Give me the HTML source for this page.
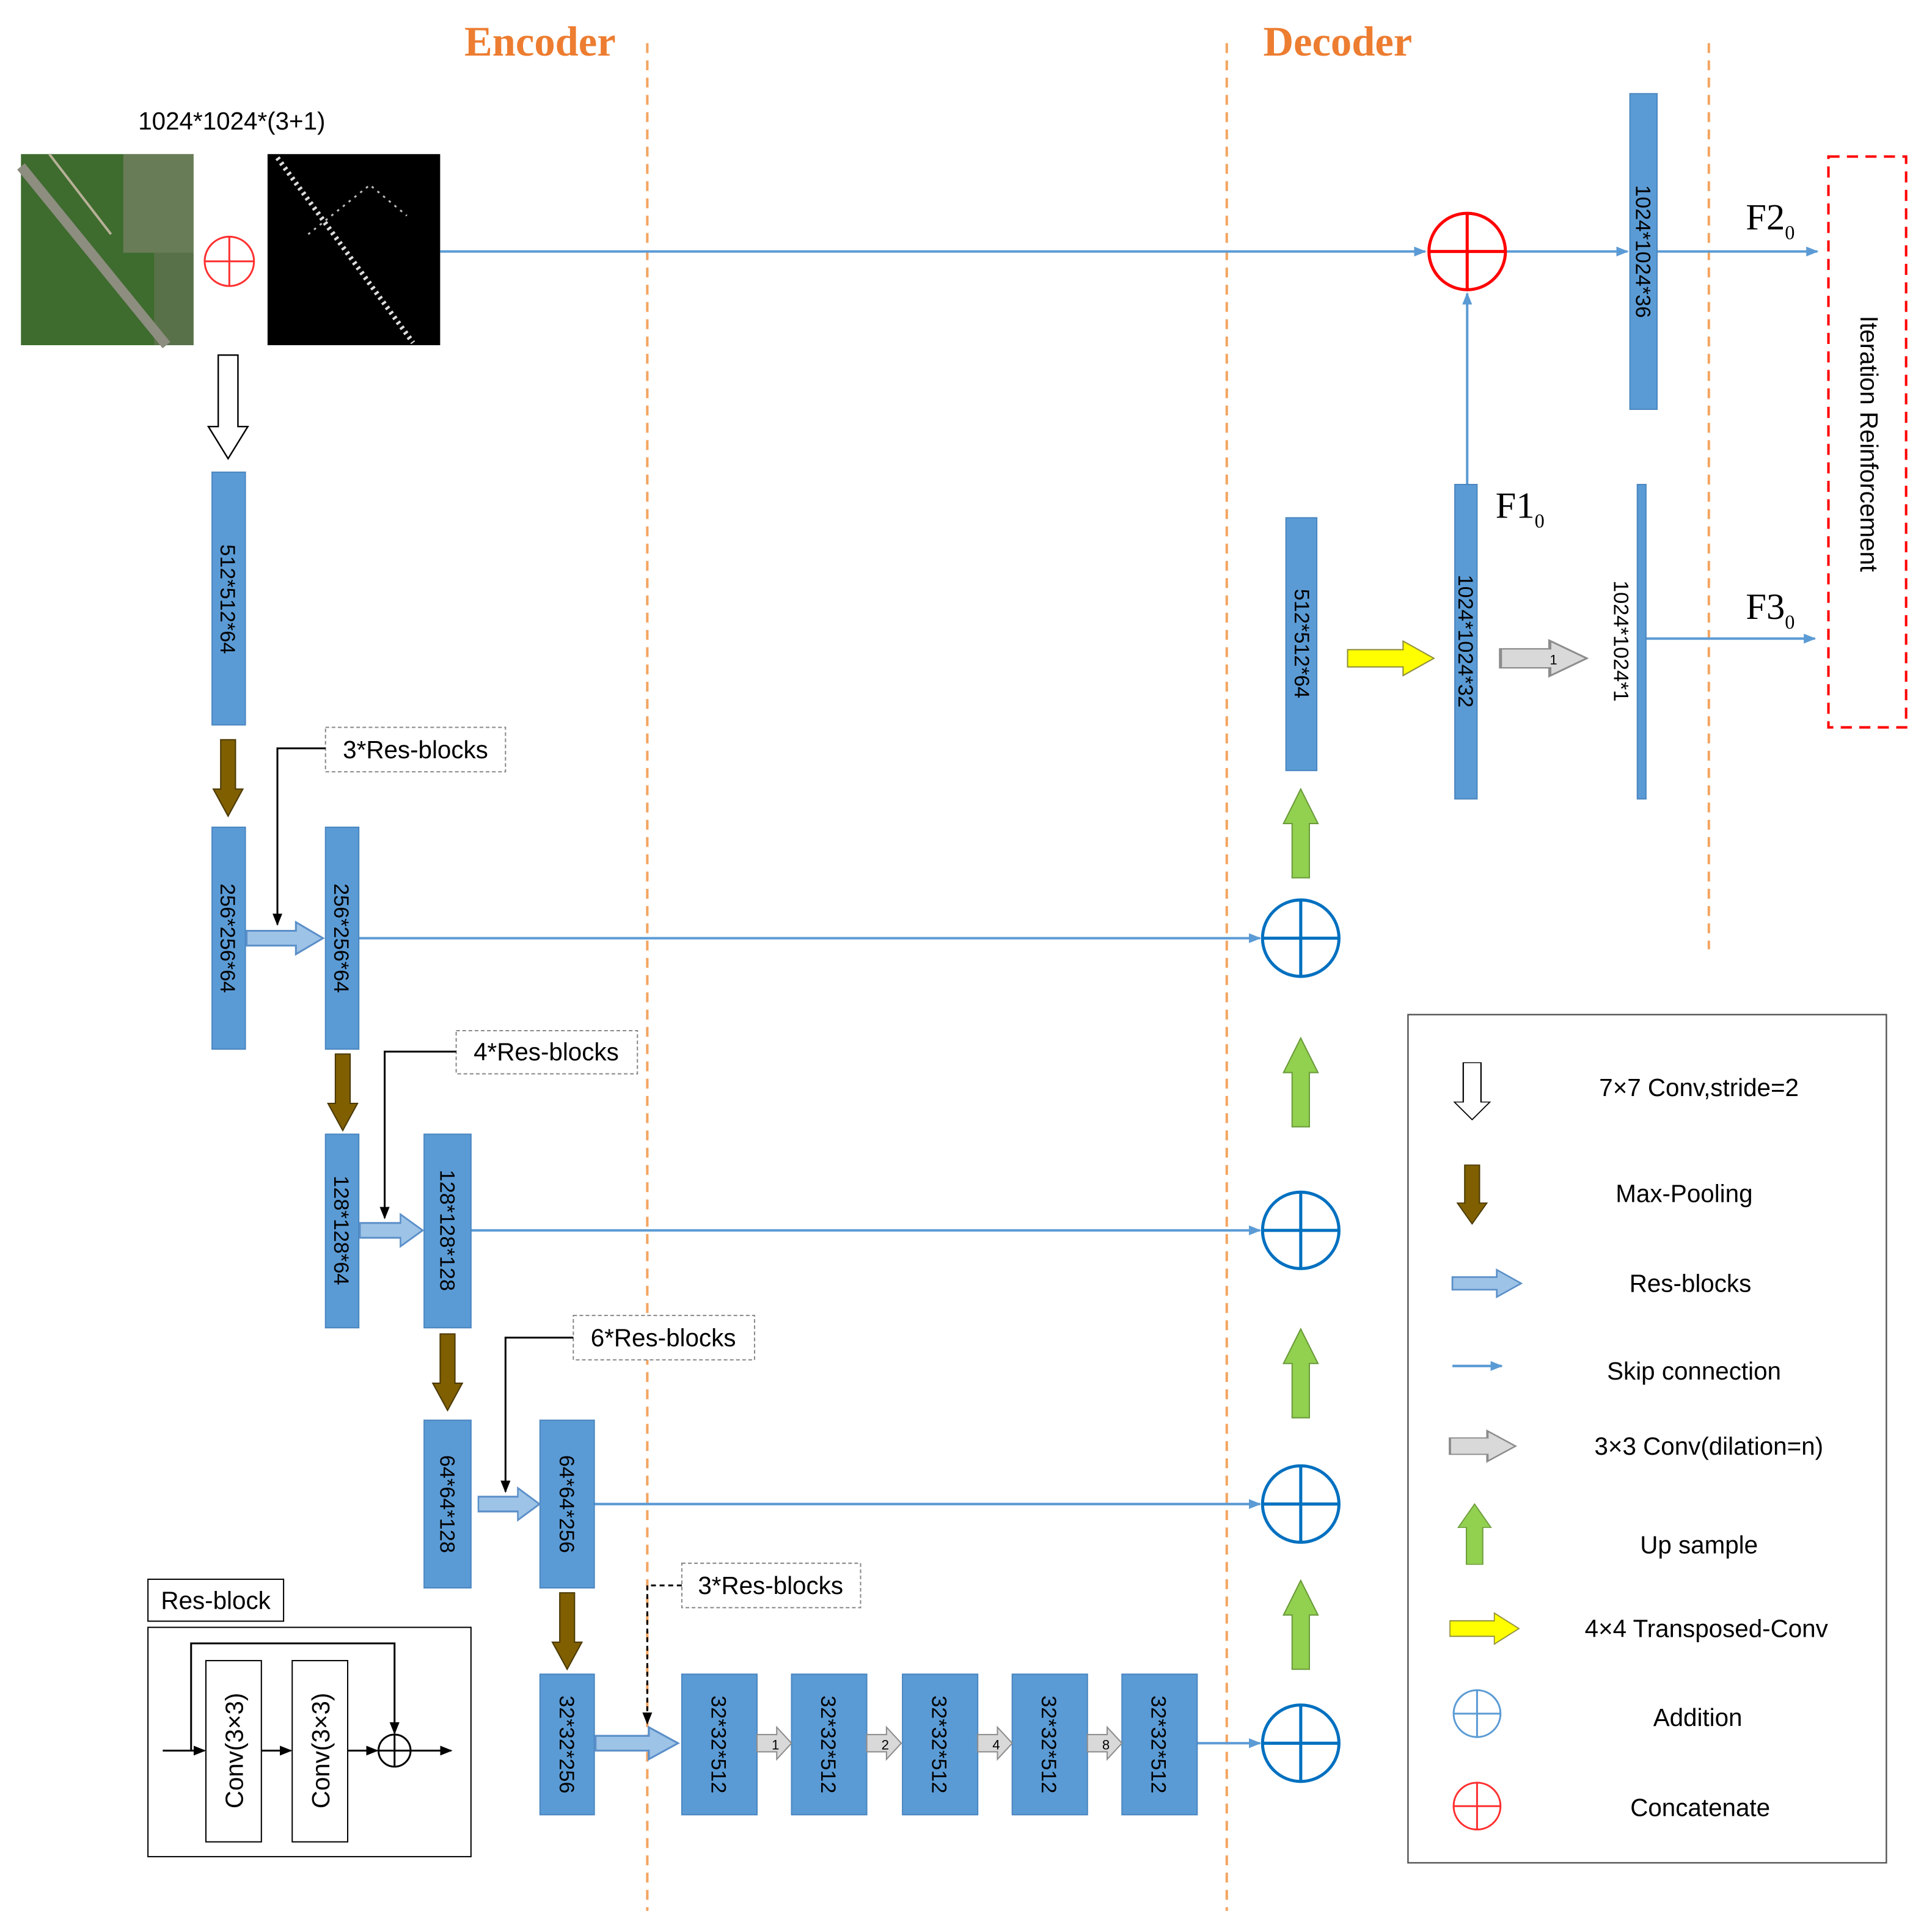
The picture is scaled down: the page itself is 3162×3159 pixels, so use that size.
<!DOCTYPE html>
<html><head><meta charset="utf-8"><style>html,body{margin:0;padding:0;background:#fff}svg{display:block}</style></head><body>
<svg xmlns="http://www.w3.org/2000/svg" width="3162" height="3159" viewBox="0 0 1567 1565.5" preserveAspectRatio="none" font-family="Liberation Sans, sans-serif">
<defs>
<marker id="ab" markerWidth="10" markerHeight="10" refX="9" refY="5" orient="auto" markerUnits="userSpaceOnUse"><path d="M0,1 L10,5 L0,9 Z" fill="#5b9bd5"/></marker>
<marker id="ak" markerWidth="10" markerHeight="10" refX="9" refY="5" orient="auto" markerUnits="userSpaceOnUse"><path d="M0,1 L10,5 L0,9 Z" fill="#000"/></marker>
<path id="res" d="M0,-6 H40 V-13 L62,0 L40,13 V6 H0 Z" fill="#9dc3e6" stroke="#5b8fc9" stroke-width="1.5"/>
<path id="brown" d="M-6,0 L6,0 L6,40 L12,40 L0,62 L-12,40 L-6,40 Z" fill="#7f5f00" stroke="#4a3800" stroke-width="1"/>
<path id="green" d="M-7,72 L7,72 L7,28 L14,28 L0,0 L-14,28 L-7,28 Z" fill="#92d050" stroke="#6a9a3a" stroke-width="1"/>
<path id="gray" d="M0,-7 H16 V-13 L28,0 L16,13 V7 H0Z" fill="#d9d9d9" stroke="#8c8c8c" stroke-width="1"/>
<path id="yellow" d="M0,-7 H45 V-14 L70,0 L45,14 V7 H0Z" fill="#ffff00" stroke="#8c8c3c" stroke-width="1"/>
<path id="hollow" d="M-8,0 H8 V58 H16 L0,84 L-16,58 H-8Z" fill="#fff" stroke="#000" stroke-width="1.2"/>
<g id="bc"><circle r="31" fill="#fff" stroke="#0070c0" stroke-width="2.5"/><path d="M-31,0 H31 M0,-31 V31" stroke="#0070c0" stroke-width="2.5"/></g>
</defs>

<g stroke="#f4a460" stroke-width="2" stroke-dasharray="8,6">
<line x1="525" y1="35" x2="525" y2="1550"/><line x1="995" y1="35" x2="995" y2="1550"/><line x1="1386" y1="35" x2="1386" y2="770"/>
</g>
<text x="438" y="45" font-family="Liberation Serif, serif" font-weight="bold" font-size="34" fill="#ed7d31" text-anchor="middle">Encoder</text>
<text x="1085" y="45" font-family="Liberation Serif, serif" font-weight="bold" font-size="34" fill="#ed7d31" text-anchor="middle">Decoder</text>

<text x="188" y="105" font-size="20" text-anchor="middle">1024*1024*(3+1)</text>
<rect x="17" y="125" width="140" height="155" fill="#3e6b2e"/>
<rect x="100" y="125" width="57" height="80" fill="#8a8a7a" opacity="0.55"/>
<rect x="125" y="205" width="32" height="75" fill="#7a7a6a" opacity="0.45"/>
<path d="M17,135 L135,280" stroke="#8d8d80" stroke-width="8"/>
<path d="M40,125 L90,190" stroke="#b8b098" stroke-width="2"/>
<rect x="217" y="125" width="140" height="155" fill="#000"/>
<path d="M225,128 L335,278" stroke="#ddd" stroke-width="4" stroke-dasharray="2,3"/>
<path d="M250,190 L300,150 L330,175" stroke="#bbb" stroke-width="1.5" stroke-dasharray="2,4" fill="none"/>
<g transform="translate(186,212)"><circle r="20" fill="#fff" stroke="#ff3030" stroke-width="1.5"/><path d="M-20,0 H20 M0,-20 V20" stroke="#ff3030" stroke-width="1.5"/></g>

<g stroke="#5b9bd5" stroke-width="2" fill="none">
<line x1="357" y1="204" x2="1156" y2="204" marker-end="url(#ab)"/>
<line x1="1222" y1="204" x2="1320" y2="204" marker-end="url(#ab)"/>
<line x1="1344" y1="204" x2="1474" y2="204" marker-end="url(#ab)"/>
<line x1="1190" y1="393" x2="1190" y2="238" marker-end="url(#ab)"/>
<line x1="1335" y1="518" x2="1472" y2="518" marker-end="url(#ab)"/>
<line x1="291" y1="761" x2="1022" y2="761" marker-end="url(#ab)"/>
<line x1="382" y1="998" x2="1022" y2="998" marker-end="url(#ab)"/>
<line x1="482" y1="1220" x2="1022" y2="1220" marker-end="url(#ab)"/>
<line x1="971" y1="1414" x2="1022" y2="1414" marker-end="url(#ab)"/>
</g>
<g transform="translate(1190,204)"><circle r="31" fill="#fff" stroke="#ff0000" stroke-width="2.5"/><path d="M-31,0 H31 M0,-31 V31" stroke="#ff0000" stroke-width="2.5"/></g>

<g fill="#5b9bd5" stroke="#4a86c0" stroke-width="1">
<rect x="1322" y="76" width="22" height="256"/>
<rect x="172" y="383" width="27" height="205"/>
<rect x="172" y="671" width="27" height="180"/>
<rect x="264" y="671" width="27" height="180"/>
<rect x="264" y="920" width="27" height="157"/>
<rect x="344" y="920" width="38" height="157"/>
<rect x="344" y="1152" width="38" height="136"/>
<rect x="438" y="1152" width="44" height="136"/>
<rect x="438" y="1358" width="44" height="114"/>
<rect x="553" y="1358" width="61" height="114"/>
<rect x="642" y="1358" width="61" height="114"/>
<rect x="732" y="1358" width="61" height="114"/>
<rect x="821" y="1358" width="61" height="114"/>
<rect x="910" y="1358" width="61" height="114"/>
<rect x="1043" y="420" width="25" height="205"/>
<rect x="1180" y="393" width="18" height="255"/>
<rect x="1328" y="393" width="7" height="255"/>
</g>
<g font-size="17" fill="#000" text-anchor="middle">
<text transform="translate(1327,204) rotate(90)">1024*1024*36</text>
<text transform="translate(179,486) rotate(90)">512*512*64</text>
<text transform="translate(179,761) rotate(90)">256*256*64</text>
<text transform="translate(271,761) rotate(90)">256*256*64</text>
<text transform="translate(271,998) rotate(90)">128*128*64</text>
<text transform="translate(357,998) rotate(90)">128*128*128</text>
<text transform="translate(357,1220) rotate(90)">64*64*128</text>
<text transform="translate(454,1220) rotate(90)">64*64*256</text>
<text transform="translate(454,1415) rotate(90)">32*32*256</text>
<text transform="translate(577,1415) rotate(90)">32*32*512</text>
<text transform="translate(666,1415) rotate(90)">32*32*512</text>
<text transform="translate(756,1415) rotate(90)">32*32*512</text>
<text transform="translate(845,1415) rotate(90)">32*32*512</text>
<text transform="translate(934,1415) rotate(90)">32*32*512</text>
<text transform="translate(1050,522) rotate(90)">512*512*64</text>
<text transform="translate(1183,520) rotate(90)">1024*1024*32</text>
<text transform="translate(1309,520) rotate(90)">1024*1024*1</text>
</g>

<use href="#hollow" x="185" y="288"/>
<use href="#brown" x="185" y="600"/>
<use href="#brown" x="278" y="855"/>
<use href="#brown" x="363" y="1082"/>
<use href="#brown" x="460" y="1292"/>
<use href="#res" x="200" y="761"/>
<use href="#res" transform="translate(292,998) scale(0.82,1)"/>
<use href="#res" transform="translate(388,1220) scale(0.8,1)"/>
<use href="#res" transform="translate(483,1414) scale(1.08,1)"/>
<use href="#gray" x="614" y="1414"/><use href="#gray" x="703" y="1414"/><use href="#gray" x="793" y="1414"/><use href="#gray" x="882" y="1414"/>
<g font-size="11" text-anchor="middle"><text x="629" y="1419">1</text><text x="718" y="1419">2</text><text x="808" y="1419">4</text><text x="897" y="1419">8</text></g>
<use href="#green" x="1055" y="1282"/><use href="#green" x="1055" y="1078"/><use href="#green" x="1055" y="842"/><use href="#green" x="1055" y="640"/>
<use href="#bc" x="1055" y="761"/><use href="#bc" x="1055" y="998"/><use href="#bc" x="1055" y="1220"/><use href="#bc" x="1055" y="1414"/>
<use href="#yellow" x="1093" y="534"/>
<use href="#gray" transform="translate(1217,534) scale(2.5,1.1)"/>
<text x="1260" y="539" font-size="11" text-anchor="middle">1</text>

<g font-family="Liberation Serif, serif" font-size="30">
<text x="1213" y="420">F1<tspan font-size="16" dy="8">0</tspan></text>
<text x="1416" y="186">F2<tspan font-size="16" dy="8">0</tspan></text>
<text x="1416" y="502">F3<tspan font-size="16" dy="8">0</tspan></text>
</g>
<rect x="1483" y="127" width="63" height="463" fill="none" stroke="#ff0000" stroke-width="2" stroke-dasharray="9,6"/>
<text transform="translate(1509,360) rotate(90)" font-size="20" text-anchor="middle">Iteration Reinforcement</text>

<g fill="#fff" stroke="#888" stroke-dasharray="3,2"><rect x="264" y="590" width="146" height="36"/><rect x="370" y="836" width="147" height="35"/><rect x="465" y="1067" width="147" height="36"/><rect x="553" y="1268" width="145" height="36"/></g>
<g font-size="20" text-anchor="middle"><text x="337" y="615">3*Res-blocks</text><text x="443" y="860">4*Res-blocks</text><text x="538" y="1092">6*Res-blocks</text><text x="625" y="1293">3*Res-blocks</text></g>
<g stroke="#000" stroke-width="1.5" fill="none">
<path d="M264,607 H225 V750" marker-end="url(#ak)"/>
<path d="M370,853 H312 V988" marker-end="url(#ak)"/>
<path d="M465,1085 H410 V1210" marker-end="url(#ak)"/>
<path d="M553,1286 H525 V1398" stroke-dasharray="4,3" marker-end="url(#ak)"/>
</g>

<rect x="120" y="1281" width="110" height="34" fill="#fff" stroke="#000"/>
<text x="175" y="1305" font-size="20" text-anchor="middle">Res-block</text>
<rect x="120" y="1320" width="262" height="186" fill="#fff" stroke="#000"/>
<rect x="167" y="1347" width="45" height="147" fill="#fff" stroke="#000"/>
<rect x="237" y="1347" width="45" height="147" fill="#fff" stroke="#000"/>
<text transform="translate(197,1420) rotate(-90)" font-size="20" text-anchor="middle">Conv(3×3)</text>
<text transform="translate(267,1420) rotate(-90)" font-size="20" text-anchor="middle">Conv(3×3)</text>
<g stroke="#000" stroke-width="1.5" fill="none">
<line x1="132" y1="1420" x2="166" y2="1420" marker-end="url(#ak)"/>
<line x1="212" y1="1420" x2="236" y2="1420" marker-end="url(#ak)"/>
<line x1="282" y1="1420" x2="306" y2="1420" marker-end="url(#ak)"/>
<line x1="333" y1="1420" x2="366" y2="1420" marker-end="url(#ak)"/>
<path d="M155,1420 V1333 H320 V1406" marker-end="url(#ak)"/>
<circle cx="320" cy="1420" r="13"/><path d="M307,1420 H333 M320,1407 V1433"/>
</g>

<rect x="1142" y="823" width="388" height="688" fill="#fff" stroke="#555" stroke-width="1.2"/>
<use href="#hollow" transform="translate(1194,862) scale(0.9,0.55)"/>
<use href="#brown" transform="translate(1194,945) scale(1,0.77)"/>
<use href="#res" transform="translate(1178,1041) scale(0.9,0.85)"/>
<line x1="1178" y1="1108" x2="1218" y2="1108" stroke="#5b9bd5" stroke-width="2" marker-end="url(#ab)"/>
<use href="#gray" transform="translate(1176,1173) scale(1.9,0.95)"/>
<use href="#green" transform="translate(1196,1220) scale(0.95,0.68)"/>
<use href="#yellow" transform="translate(1176,1321) scale(0.8,0.9)"/>
<g transform="translate(1198,1390)"><circle r="19" fill="#fff" stroke="#5b9bd5" stroke-width="1.5"/><path d="M-19,0 H19 M0,-19 V19" stroke="#5b9bd5" stroke-width="1.5"/></g>
<g transform="translate(1198,1465)"><circle r="19" fill="#fff" stroke="#ff3030" stroke-width="1.5"/><path d="M-19,0 H19 M0,-19 V19" stroke="#ff3030" stroke-width="1.5"/></g>
<g font-size="20" text-anchor="middle">
<text x="1378" y="889">7×7 Conv,stride=2</text>
<text x="1366" y="975">Max-Pooling</text>
<text x="1371" y="1048">Res-blocks</text>
<text x="1374" y="1119">Skip connection</text>
<text x="1386" y="1180">3×3 Conv(dilation=n)</text>
<text x="1378" y="1260">Up sample</text>
<text x="1384" y="1328">4×4 Transposed-Conv</text>
<text x="1377" y="1400">Addition</text>
<text x="1379" y="1473">Concatenate</text>
</g>
</svg>
</body></html>
